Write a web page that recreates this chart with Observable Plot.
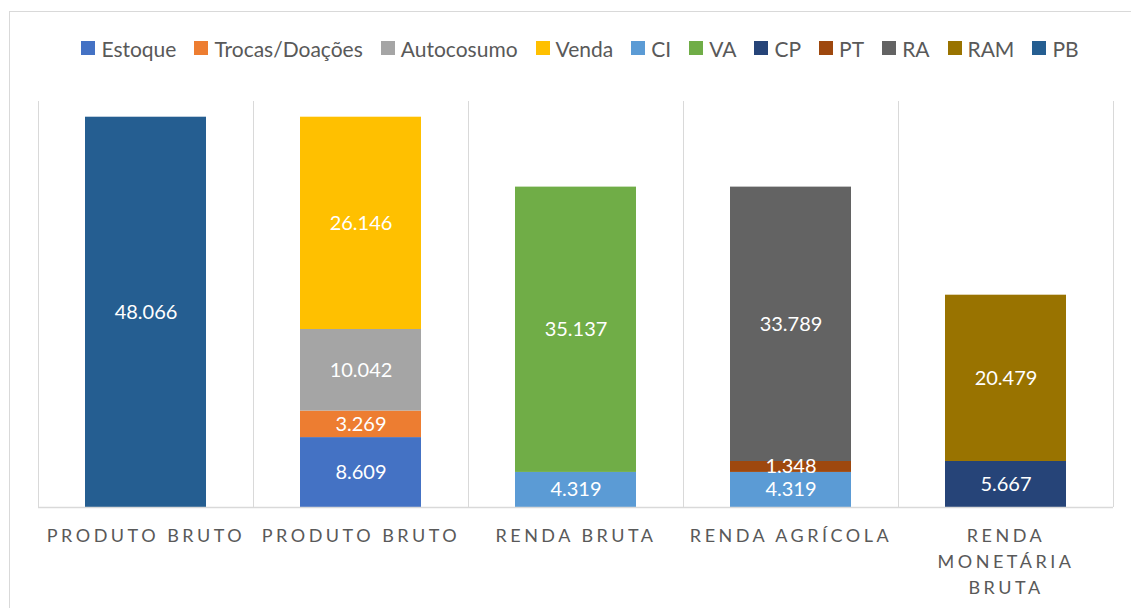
<!DOCTYPE html>
<html>
<head>
<meta charset="utf-8">
<script src="https://cdn.jsdelivr.net/npm/d3@7"></script>
<script src="https://cdn.jsdelivr.net/npm/@observablehq/plot@0.6"></script>
<style>
  html, body { margin: 0; padding: 0; background: #fff; overflow: hidden; }
  #wrap { position: relative; width: 1131px; height: 608px; font-family: Lato, "Open Sans", sans-serif; }
  #border { position: absolute; left: 9px; top: 11px; width: 1200px; height: 700px;
            border-left: 1px solid #d9d9d9; border-top: 1px solid #d9d9d9; pointer-events: none; }
  #legend { display: flex; justify-content: center; align-items: center; height: 66px; padding-top: 15px;
            padding-left: 29px; box-sizing: content-box; font-size: 21px; color: #595959; }
  .item { display: flex; align-items: center; margin: 0 9px; white-space: nowrap; }
  .sw { width: 14px; height: 14px; margin-right: 6px; display: inline-block; }
  #chart { position: absolute; left: 0; top: 85px; }
  #chart svg { display: block; }
</style>
</head>
<body>
<div id="wrap">
  <div id="border"></div>
  <div id="legend"></div>
  <div id="chart"></div>
</div>
<script>
// Categories (keys keep the two "PRODUTO BRUTO" bars distinct)
const categoryKeys = ["pb1", "pb2", "rb", "ra", "rmb"];
const categoryLabels = ["PRODUTO BRUTO", "PRODUTO BRUTO", "RENDA BRUTA", "RENDA AGRÍCOLA", "RENDA\nMONETÁRIA\nBRUTA"];

// Series names and colors
const seriesNames = ["Estoque", "Trocas/Doações", "Autocosumo", "Venda", "CI", "VA", "CP", "PT", "RA", "RAM", "PB"];
const seriesColors = ["#4472C4", "#ED7D31", "#A5A5A5", "#FFC000", "#5B9BD5", "#70AD47", "#264478", "#9E480E", "#636363", "#997300", "#255E91"];

// Values per series, one per category (null = absent)
const estoque    = [null, 8609, null, null, null];
const trocas     = [null, 3269, null, null, null];
const autocosumo = [null, 10042, null, null, null];
const venda      = [null, 26146, null, null, null];
const ci         = [null, null, 4319, 4319, null];
const va         = [null, null, 35137, null, null];
const cp         = [null, null, null, null, 5667];
const pt         = [null, null, null, 1348, null];
const ra         = [null, null, null, 33789, null];
const ram        = [null, null, null, null, 20479];
const pb         = [48066, null, null, null, null];

const seriesValues = [estoque, trocas, autocosumo, venda, ci, va, cp, pt, ra, ram, pb];

const rows = [];
seriesNames.forEach((s, i) => {
  seriesValues[i].forEach((v, j) => {
    if (v != null) rows.push({cat: categoryKeys[j], series: s, value: v});
  });
});

const fmt = d3.formatLocale({decimal: ",", thousands: ".", grouping: [3], currency: ["R$", ""]}).format(",d");
const labelOf = new Map(categoryKeys.map((k, i) => [k, categoryLabels[i]]));

// Legend
const legend = document.getElementById("legend");
seriesNames.forEach((s, i) => {
  const it = document.createElement("div");
  it.className = "item";
  const sw = document.createElement("span");
  sw.className = "sw";
  sw.style.background = seriesColors[i];
  it.appendChild(sw);
  it.appendChild(document.createTextNode(s));
  legend.appendChild(it);
});

const W = 1131, H = 523;
const mL = 38, mR = 18, mT = 16, mB = 101;
const bw = (W - mL - mR) / categoryKeys.length;

const chart = Plot.plot({
  width: W,
  height: H,
  marginLeft: mL,
  marginRight: mR,
  marginTop: mT,
  marginBottom: mB,
  style: {fontFamily: "Lato, 'Open Sans', sans-serif", background: "transparent", overflow: "visible"},
  x: {domain: categoryKeys, padding: 0, axis: null},
  y: {domain: [0, 50000], axis: null},
  color: {domain: seriesNames, range: seriesColors},
  marks: [
    Plot.ruleX(categoryKeys, {x: d => d, dx: -bw / 2, y1: 0, y2: 50000, stroke: "#d9d9d9", strokeWidth: 1}),
    Plot.ruleX(categoryKeys.slice(-1), {x: d => d, dx: bw / 2, y1: 0, y2: 50000, stroke: "#d9d9d9", strokeWidth: 1}),
    Plot.barY(rows, {x: "cat", y: "value", fill: "series", insetLeft: 47, insetRight: 47}),
    Plot.ruleY([0], {stroke: "#d9d9d9", strokeWidth: 1.5}),
    Plot.text(rows, Plot.stackY({x: "cat", y: "value", text: d => fmt(d.value), fill: "white", fontSize: 20})),
    Plot.text(categoryKeys, {x: d => d, y: 0, text: d => labelOf.get(d), dy: 16, lineAnchor: "top",
      lineHeight: 1.444, fontSize: 18, fill: "#595959"})
  ]
});

chart.querySelectorAll("text").forEach(t => {
  if (t.textContent.match(/[A-Z]{3}/)) {
    t.setAttribute("letter-spacing", "3.5");
  }
});
document.getElementById("chart").appendChild(chart);
</script>
</body>
</html>
